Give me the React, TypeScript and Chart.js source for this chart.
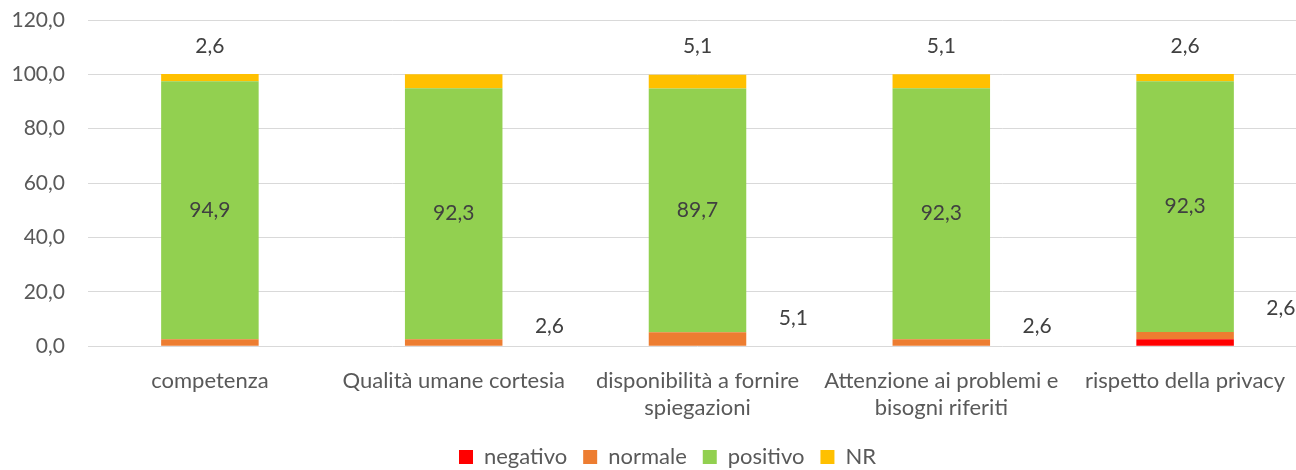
import React, { useEffect, useRef } from "react";
import { Chart, registerables } from "chart.js";

Chart.register(...registerables);

const categories: (string | string[])[] = [
  "competenza",
  "Qualità umane cortesia",
  ["disponibilità a fornire", "spiegazioni"],
  ["Attenzione ai problemi e", "bisogni riferiti"],
  "rispetto della privacy",
];

const negativo = [0, 0, 0, 0, 2.6];
const normale = [2.6, 2.6, 5.1, 2.6, 2.6];
const positivo = [94.9, 92.3, 89.7, 92.3, 92.3];
const nr = [2.6, 5.1, 5.1, 5.1, 2.6];

// labels shown by the original chart (null = not shown)
const topLabels: (number | null)[] = [2.6, null, 5.1, 5.1, 2.6];
const sideLabels: (number | null)[] = [null, 2.6, 5.1, 2.6, 2.6];

const yTicks = [0, 20, 40, 60, 80, 100, 120];

const FONT = "Lato";
const fmt = (v: number) => v.toFixed(1).replace(".", ",");

const labelPlugin = {
  id: "valueLabels",
  afterLayout(chart: any) {
    if (chart.legend) {
      chart.legend.left += 14;
      chart.legend.right += 14;
    }
  },
  afterDatasetsDraw(chart: any) {
    const ctx = chart.ctx;
    ctx.save();
    ctx.font = `21px ${FONT}`;
    ctx.fillStyle = "#404040";
    ctx.textAlign = "center";
    ctx.textBaseline = "middle";
    const posMeta = chart.getDatasetMeta(2);
    posMeta.data.forEach((el: any, i: number) => {
      ctx.fillText(fmt(positivo[i]), el.x, (el.y + el.base) / 2);
    });
    const nrMeta = chart.getDatasetMeta(3);
    nrMeta.data.forEach((el: any, i: number) => {
      const v = topLabels[i];
      if (v == null) return;
      ctx.fillText(fmt(v), el.x, el.y - 28);
    });
    const nudges = [0, 0, -1, 0, -11];
    const normMeta = chart.getDatasetMeta(1);
    normMeta.data.forEach((el: any, i: number) => {
      const v = sideLabels[i];
      if (v == null) return;
      ctx.fillText(fmt(v), el.x + el.width / 2 + 47, el.y - 13 + nudges[i]);
    });
    ctx.restore();
  },
};

export default function App() {
  const ref = useRef<HTMLCanvasElement | null>(null);
  useEffect(() => {
    if (!ref.current) return;
    const chart = new Chart(ref.current, {
      type: "bar",
      data: {
        labels: categories,
        datasets: [
          { label: "negativo", data: negativo, backgroundColor: "#FF0000" },
          { label: "normale", data: normale, backgroundColor: "#ED7D31" },
          { label: "positivo", data: positivo, backgroundColor: "#92D050" },
          { label: "NR", data: nr, backgroundColor: "#FFC000" },
        ],
      },
      options: {
        responsive: false,
        animation: false,
        devicePixelRatio: 1,
        datasets: {
          bar: {
            categoryPercentage: 1,
            barPercentage: 0.4,
            borderWidth: 0,
          },
        },
        layout: { padding: { top: 20, right: 37, left: 0, bottom: -8 } },
        plugins: {
          legend: {
            position: "bottom",
            labels: {
              boxWidth: 14,
              boxHeight: 14,
              padding: 16,
              color: "#595959",
              font: { family: FONT, size: 22 },
            },
          },
          tooltip: { enabled: false },
        },
        scales: {
          x: {
            stacked: true,
            grid: { display: false, drawTicks: false },
            border: { display: false },
            afterFit: (s: any) => {
              s.height -= 13;
            },
            ticks: {
              color: "#595959",
              font: { family: FONT, size: 22, lineHeight: 1.2 },
              padding: 22,
              maxRotation: 0,
              autoSkip: false,
            },
          },
          y: {
            stacked: true,
            min: 0,
            max: 120,
            afterFit: (s: any) => {
              s.width = 88;
              s.paddingTop = 0;
              s.paddingBottom = 0;
            },
            afterBuildTicks: (s: any) => {
              s.ticks = yTicks.map((v) => ({ value: v }));
            },
            grid: { color: "#d9d9d9", lineWidth: 1, drawTicks: false },
            border: { display: false },
            ticks: {
              color: "#595959",
              font: { family: FONT, size: 21 },
              padding: 23,
              callback: (v: any) => fmt(Number(v)),
            },
          },
        },
      },
      plugins: [labelPlugin],
    });
    return () => chart.destroy();
  }, []);
  return (
    <div
      style={{
        position: "absolute",
        left: 0,
        top: 0,
        width: 1296,
        height: 470,
        overflow: "hidden",
        background: "#fff",
      }}
    >
      <canvas ref={ref} width={1344} height={470} style={{ display: "block" }} />
    </div>
  );
}
